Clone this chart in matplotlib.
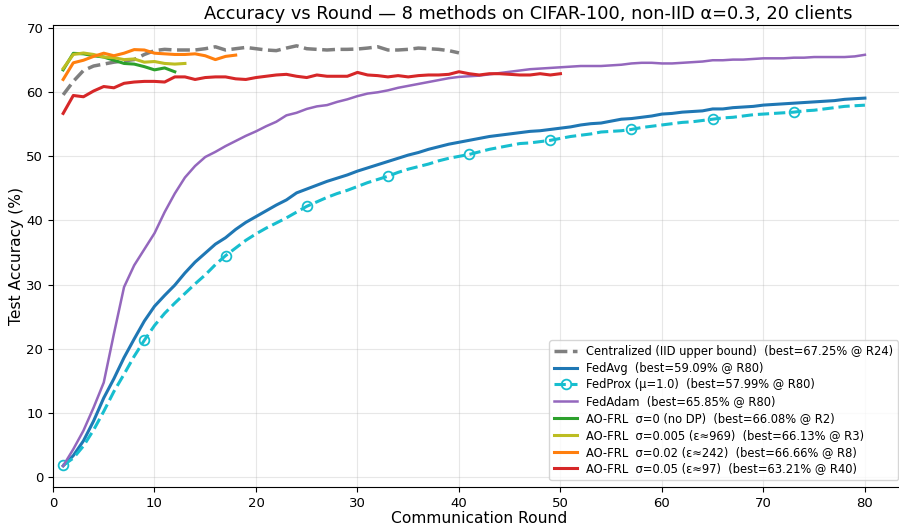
import matplotlib
matplotlib.use("Agg")
import matplotlib.pyplot as plt
import numpy as np

central = [59.6, 61.7, 63.4, 64.1, 64.4, 64.7, 64.9, 65.1, 65.9, 66.5,
           66.7, 66.6, 66.6, 66.6, 66.8, 67.1, 66.6, 66.8, 67.0, 66.8,
           66.6, 66.5, 66.9, 67.25, 66.8, 66.7, 66.6, 66.7, 66.7, 66.75,
           66.9, 67.1, 66.6, 66.6, 66.7, 66.9, 66.8, 66.7, 66.5, 66.15]

fedavg = [1.7, 3.3, 5.6, 8.7, 12.3, 15.3, 18.6, 21.5, 24.3, 26.6,
          28.3, 29.9, 31.8, 33.5, 34.9, 36.3, 37.3, 38.6, 39.7, 40.6,
          41.5, 42.4, 43.2, 44.3, 44.9, 45.5, 46.1, 46.6, 47.1, 47.7,
          48.2, 48.7, 49.2, 49.7, 50.2, 50.6, 51.1, 51.5, 51.9, 52.2,
          52.5, 52.8, 53.1, 53.3, 53.5, 53.7, 53.9, 54.0, 54.2, 54.4,
          54.6, 54.9, 55.1, 55.2, 55.5, 55.8, 55.9, 56.1, 56.3, 56.6,
          56.7, 56.9, 57.0, 57.1, 57.4, 57.4, 57.6, 57.7, 57.8, 58.0,
          58.1, 58.2, 58.3, 58.4, 58.5, 58.6, 58.7, 58.9, 59.0, 59.09]

fedprox = [1.8, 2.9, 4.8, 7.3, 10.2, 13.3, 16.0, 18.8, 21.3, 23.6,
           25.5, 27.1, 28.6, 30.1, 31.5, 33.1, 34.5, 35.7, 36.9, 37.9,
           38.8, 39.6, 40.4, 41.3, 42.2, 42.9, 43.6, 44.2, 44.7, 45.3,
           45.9, 46.4, 46.9, 47.5, 48.0, 48.4, 48.8, 49.3, 49.7, 50.0,
           50.3, 50.7, 51.1, 51.4, 51.7, 52.0, 52.1, 52.3, 52.5, 52.8,
           53.1, 53.3, 53.5, 53.8, 53.9, 54.0, 54.2, 54.5, 54.7, 54.9,
           55.1, 55.3, 55.4, 55.6, 55.8, 56.0, 56.1, 56.3, 56.5, 56.6,
           56.7, 56.8, 56.9, 57.1, 57.2, 57.4, 57.6, 57.8, 57.9, 57.99]

fedadam = [1.7, 4.3, 7.2, 10.8, 14.7, 22.3, 29.6, 33.0, 35.5, 38.0,
           41.3, 44.2, 46.7, 48.5, 49.9, 50.7, 51.6, 52.4, 53.2, 53.9,
           54.7, 55.4, 56.4, 56.8, 57.4, 57.8, 58.0, 58.5, 58.9, 59.4,
           59.8, 60.0, 60.3, 60.7, 61.0, 61.3, 61.6, 61.9, 62.2, 62.4,
           62.5, 62.6, 62.8, 63.0, 63.2, 63.4, 63.6, 63.7, 63.8, 63.9,
           64.0, 64.1, 64.1, 64.1, 64.2, 64.3, 64.5, 64.6, 64.6, 64.5,
           64.5, 64.6, 64.7, 64.8, 65.0, 65.0, 65.1, 65.1, 65.2, 65.3,
           65.3, 65.3, 65.4, 65.4, 65.5, 65.5, 65.5, 65.5, 65.6, 65.85]

ao_s0 = [63.5, 66.08, 66.0, 65.7, 65.5, 65.0, 64.5, 64.4, 64.0, 63.5,
         63.8, 63.2]

ao_s005 = [63.7, 65.9, 66.13, 65.9, 65.5, 65.4, 65.1, 65.2, 64.7, 64.8,
           64.5, 64.4, 64.5]

ao_s02 = [62.0, 64.6, 65.0, 65.6, 66.1, 65.7, 66.1, 66.66, 66.6, 66.1,
          66.0, 65.9, 65.9, 66.0, 65.7, 65.1, 65.6, 65.8]

ao_s05 = [56.7, 59.5, 59.3, 60.2, 60.9, 60.7, 61.4, 61.6, 61.7, 61.7,
          61.6, 62.4, 62.4, 62.0, 62.3, 62.4, 62.4, 62.1, 62.0, 62.3,
          62.5, 62.7, 62.8, 62.5, 62.3, 62.7, 62.5, 62.5, 62.5, 63.1,
          62.7, 62.6, 62.4, 62.6, 62.4, 62.6, 62.7, 62.7, 62.8, 63.21,
          62.9, 62.7, 62.9, 62.9, 62.8, 62.7, 62.7, 62.9, 62.7, 62.9]

labels = [
    "Centralized (IID upper bound)  (best=67.25% @ R24)",
    "FedAvg  (best=59.09% @ R80)",
    "FedProx (\u03bc=1.0)  (best=57.99% @ R80)",
    "FedAdam  (best=65.85% @ R80)",
    "AO-FRL  \u03c3=0 (no DP)  (best=66.08% @ R2)",
    "AO-FRL  \u03c3=0.005 (\u03b5\u2248969)  (best=66.13% @ R3)",
    "AO-FRL  \u03c3=0.02 (\u03b5\u2248242)  (best=66.66% @ R8)",
    "AO-FRL  \u03c3=0.05 (\u03b5\u224897)  (best=63.21% @ R40)",
]

def rounds(v):
    return np.arange(1, len(v) + 1)

W, H = 899, 525
fig = plt.figure(figsize=(W / 100, H / 100), dpi=100)
ax = fig.add_axes([53 / W, 38 / H, (905 - 53) / W, (487 - 25) / H])

lw = 2.2
ax.plot(rounds(central), central, color="#7f7f7f", ls="--", lw=2.5, label=labels[0])
ax.plot(rounds(fedavg), fedavg, color="tab:blue", lw=lw, label=labels[1])
ax.plot(rounds(fedprox), fedprox, color="tab:cyan", lw=lw, ls="--", marker="o",
        markevery=8, mfc="none", mec="tab:cyan", ms=7, mew=1.3, label=labels[2])
ax.plot(rounds(fedadam), fedadam, color="tab:purple", lw=1.8, label=labels[3])
ax.plot(rounds(ao_s0), ao_s0, color="tab:green", lw=lw, label=labels[4])
ax.plot(rounds(ao_s005), ao_s005, color="tab:olive", lw=lw, label=labels[5])
ax.plot(rounds(ao_s02), ao_s02, color="tab:orange", lw=lw, label=labels[6])
ax.plot(rounds(ao_s05), ao_s05, color="tab:red", lw=lw, label=labels[7])

ax.set_xlim(0, 83.95)
ax.set_ylim(-1.6, 70.5)
ax.set_xticks(np.arange(0, 81, 10))
ax.set_yticks(np.arange(0, 71, 10))
ax.grid(True, alpha=0.3)
ax.tick_params(labelsize=9.5)
ax.set_xlabel("Communication Round", fontsize=11.2, labelpad=1)
ax.set_ylabel("Test Accuracy (%)", fontsize=11.2, labelpad=1.5)
fig.text(528 / W, 1 - 14 / H,
         "Accuracy vs Round \u2014 8 methods on CIFAR-100, non-IID \u03b1=0.3, 20 clients",
         fontsize=12.8, ha="center", va="center")
ax.legend(loc="lower right", fontsize=8.3, labelspacing=0.33, borderaxespad=0.6)

fig.savefig("out.png", dpi=100)
